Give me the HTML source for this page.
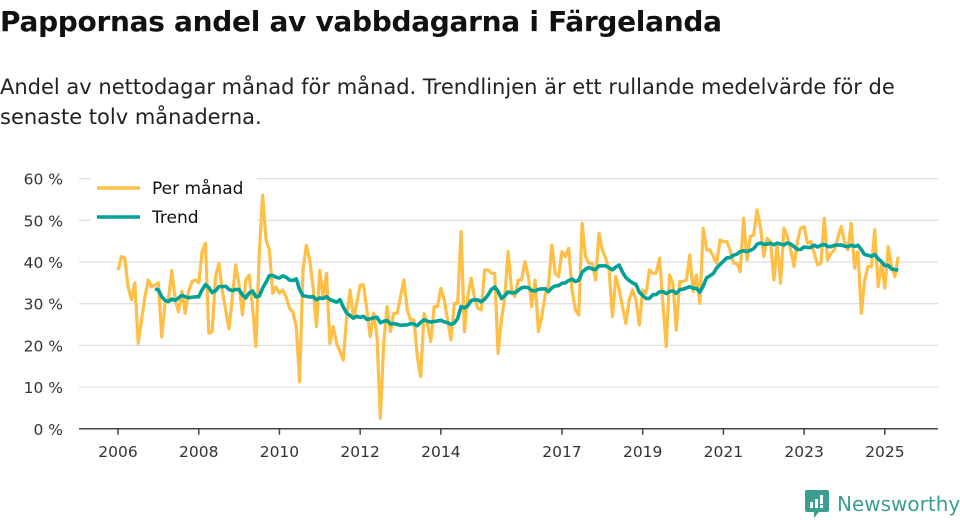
<!DOCTYPE html>
<html><head><meta charset="utf-8">
<style>
body{margin:0;background:#fff;width:960px;height:520px;overflow:hidden;font-family:"DejaVu Sans","Liberation Sans",sans-serif;color:#111}
h1{position:absolute;left:0;top:0;margin:0;font-size:28px;font-weight:bold;letter-spacing:-0.3px;line-height:44px}
p.sub{position:absolute;left:0;top:72px;margin:0;font-size:21px;line-height:30px;color:#222;width:940px}
svg{position:absolute;left:0;top:0}
</style></head><body>
<h1>Pappornas andel av vabbdagarna i Färgelanda</h1>
<p class="sub">Andel av nettodagar månad för månad. Trendlinjen är ett rullande medelvärde för de senaste tolv månaderna.</p>
<svg id="chart" width="960" height="520"></svg>
<script>
const startYear = 2006;
const monthly = [38,41.3,41,34,31,35,20.5,26,31.6,35.7,34,34.5,35,22,30,31,38,31,28,33,27.7,33,35.3,35.7,35,42.5,44.5,22.9,23.3,36.5,39.7,33.3,28.5,24,31.6,39.3,34.5,27.3,35.7,36.9,29.3,19.7,42,56,45.3,42.9,32.5,34,32.5,33.3,31.6,28.9,28,24.5,11.3,38,44,40.5,34,24.5,38,31.3,37.3,20.5,24.5,20.5,18.5,16.5,26.9,33.3,26.5,30.1,34.5,34.5,28.5,22.1,27.7,22.1,2.5,20.5,29.3,23.3,27.7,27.7,31.7,35.7,28.5,26.1,26.1,17.3,12.5,27.7,25.3,20.9,29.3,29.3,33.7,30.9,26.1,21.3,30.1,30.1,47.3,23.3,31.7,36.1,31.3,28.9,28.5,38.1,38.1,37.3,37.3,18.1,26.1,31.7,42.5,33.3,31.7,35.7,35.7,40.1,36.5,29.3,35.7,23.3,26.9,32.1,34.5,44.1,37.3,36.5,42.5,41.3,43.3,33.3,28.5,27.3,49.3,41.3,39.7,39.7,35.7,46.9,42.9,40.9,38.1,26.9,36.5,33.3,29.3,25.3,30.9,33.3,30.9,24.9,33.3,32.5,38.1,37.3,37.3,40.9,30.1,19.7,36.9,34.9,23.7,35.3,35.3,35.7,41.7,32.9,36.9,30.1,48.1,42.9,42.9,41.3,39.7,45.3,44.9,44.9,42.9,39.7,39.7,37.7,50.5,40.5,46.1,46.5,52.5,48.5,41.3,45.7,44.9,35.7,44.5,34.9,48.1,46.1,42.9,38.9,44.9,48.1,48.5,44.5,44.9,42.1,39.3,39.7,50.5,40.5,42.1,42.9,45.7,48.5,44.9,42.9,49.3,38.5,42.5,27.7,35.7,38.9,38.9,47.7,34.1,39.7,33.7,43.7,38.9,36.5,41.3];
const yTicks = [0,10,20,30,40,50,60];
const yTickLabels = ["0 %","10 %","20 %","30 %","40 %","50 %","60 %"];
const xTickYears = [2006,2008,2010,2012,2014,2017,2019,2021,2023,2025];
const trendWindow = 12;

const NS="http://www.w3.org/2000/svg";
const svg=document.getElementById('chart');
const X0=118, PX_YEAR=40.36, Y0=428.8, PX_PCT=4.17;
function xMonth(i){return X0+i*PX_YEAR/12;}
function xYear(y){return X0+(y-startYear)*PX_YEAR;}
function yVal(v){return Y0-v*PX_PCT;}
function mk(tag,attrs){const e=document.createElementNS(NS,tag);for(const k in attrs)e.setAttribute(k,attrs[k]);svg.appendChild(e);return e;}

yTicks.forEach((t,k)=>{
  if(t>0){const g=mk('line',{x1:79,x2:938,y1:yVal(t),y2:yVal(t),stroke:'#e0e0e0','stroke-width':1.3});
  
  }
  const tx=mk('text',{x:63,y:yVal(t)+6,'text-anchor':'end','font-size':15.5,fill:'#333'});
  tx.textContent=yTickLabels[k];
  
  
});
const ax=mk('line',{x1:79,x2:938,y1:Y0,y2:Y0,stroke:'#444','stroke-width':1.5});


xTickYears.forEach(y=>{
  const tk=mk('line',{x1:xYear(y),x2:xYear(y),y1:Y0,y2:Y0+6,stroke:'#444','stroke-width':1.5});
  
  
  const tx=mk('text',{x:xYear(y),y:457,'text-anchor':'middle','font-size':15.5,fill:'#333'});
  tx.textContent=y;
  
  
});
const lb=mk('rect',{x:91,y:174,width:166,height:58,fill:'#fff'});



const mp=mk('polyline',{points:monthly.map((v,i)=>xMonth(i)+','+yVal(v)).join(' '),fill:'none',stroke:'#ffbf47','stroke-width':3.2,'stroke-linejoin':'round'});



const trendPts=[];
for(let i=trendWindow-1;i<monthly.length;i++){
  let s=0;for(let j=i-trendWindow+1;j<=i;j++)s+=monthly[j];
  trendPts.push(xMonth(i)+','+yVal(s/trendWindow));
}
const tp=mk('polyline',{points:trendPts.join(' '),fill:'none',stroke:'#00a198','stroke-width':3.6,'stroke-linejoin':'round'});



[['#ffbf47','Per månad',188,'legend-entry-per-manad'],['#00a198','Trend',217,'legend-entry-trend']].forEach(l=>{
  const ln=mk('line',{x1:97,x2:140,y1:l[2],y2:l[2],stroke:l[0],'stroke-width':3.5});
  
  
  const t=mk('text',{x:152,y:l[2]+6,'font-size':17,fill:'#111'});
  t.textContent=l[1];
  
  
});
</script>
<div style="position:absolute;left:805px;top:490px;display:flex;align-items:center">
  <svg width="24" height="28" viewBox="0 0 24 28" style="position:static"><path d="M0 2 Q0 0 2 0 H22 Q24 0 24 2 V20 Q24 22 22 22 H14 L9 28 L9 22 H2 Q0 22 0 20 Z" fill="#3a9e92"/><rect x="5" y="12" width="3" height="6" fill="#fff"/><rect x="10" y="9" width="3" height="9" fill="#fff"/><rect x="15" y="5" width="3" height="9" fill="#fff"/><rect x="15" y="15" width="3" height="3" fill="#fff"/></svg>
  <span style="font-size:20px;color:#3a9e92;margin-left:8px;font-family:'DejaVu Sans','Liberation Sans',sans-serif">Newsworthy</span>
</div>
</body></html>
